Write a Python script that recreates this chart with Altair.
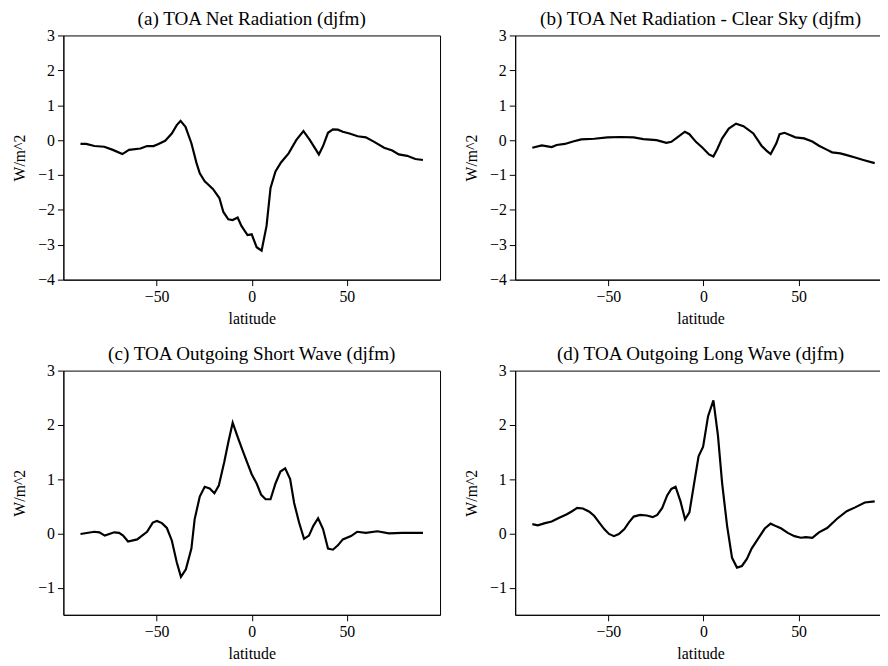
import altair as alt
import pandas as pd

# ---- data ----
lat_a = [-90, -87, -82.7, -77.5, -73, -68, -64.5, -58.5, -55, -51.6, -49, -45.5, -42, -39.4,
         -37.4, -34.8, -31.7, -29, -27.3, -24.7, -20.4, -17, -14.9, -12.3, -10, -7.4, -5.4,
         -2.2, 0, 2.6, 5.2, 7.8, 9.9, 12.5, 15.4, 19.4, 23.4, 27.2, 30.6, 35.3, 37.5, 40.1,
         42.7, 45.3, 47.9, 51.4, 55.7, 60, 64.4, 69.6, 73.9, 77.3, 81.7, 86, 90]
val_a = [-0.11, -0.11, -0.17, -0.19, -0.28, -0.40, -0.28, -0.24, -0.17, -0.17, -0.11, -0.02,
         0.19, 0.43, 0.55, 0.38, -0.09, -0.66, -0.95, -1.18, -1.40, -1.66, -2.06, -2.27,
         -2.29, -2.22, -2.46, -2.72, -2.70, -3.07, -3.17, -2.46, -1.37, -0.90, -0.64, -0.38,
         0.0, 0.26, 0.0, -0.41, -0.17, 0.21, 0.31, 0.30, 0.24, 0.19, 0.11, 0.08, -0.05,
         -0.22, -0.30, -0.41, -0.45, -0.54, -0.57]

lat_b = [-90, -85, -79.8, -77.2, -72.9, -68.6, -64.3, -57.4, -50.5, -43.6, -36.7, -31.6,
         -24.7, -19.5, -16.9, -13.4, -9.8, -7.4, -4, -0.5, 2.9, 5.2, 7.2, 9.8, 13.3, 17.1,
         21, 26.2, 30.5, 33.1, 35.3, 38.3, 40, 42.6, 45.7, 48.3, 52.9, 57.2, 60.7, 65, 67.6,
         71.9, 75.3, 79.7, 84, 90]
val_b = [-0.22, -0.15, -0.20, -0.14, -0.11, -0.04, 0.02, 0.04, 0.08, 0.09, 0.08, 0.03,
         0.0, -0.08, -0.05, 0.09, 0.24, 0.17, -0.05, -0.22, -0.41, -0.47, -0.26, 0.05, 0.33,
         0.47, 0.40, 0.19, -0.16, -0.30, -0.40, -0.09, 0.17, 0.21, 0.14, 0.08, 0.05, -0.04,
         -0.16, -0.28, -0.35, -0.38, -0.43, -0.50, -0.57, -0.66]

lat_c = [-90, -82.7, -80.1, -77.2, -72.3, -69.7, -67.6, -65, -60.2, -55, -52, -49.8, -47.2,
         -44.6, -42, -39.4, -37.2, -34.6, -31.7, -30, -27.3, -24.7, -22.1, -19.6, -17.3,
         -14.4, -12.3, -10, -7.4, -4.8, -2.2, 0, 2.6, 5, 7.3, 9.9, 12.5, 15.1, 17.6, 20.2,
         22.3, 24.9, 27.5, 30.1, 32.4, 34.9, 37.5, 40.1, 42.7, 45.3, 47.9, 52.2, 55.4, 60,
         66.1, 72.1, 79.1, 90]
val_c = [-0.01, 0.03, 0.02, -0.04, 0.02, 0.01, -0.04, -0.15, -0.11, 0.03, 0.20, 0.23, 0.19,
         0.10, -0.13, -0.53, -0.80, -0.66, -0.28, 0.26, 0.68, 0.86, 0.83, 0.74, 0.88, 1.32,
         1.68, 2.04, 1.78, 1.53, 1.29, 1.09, 0.92, 0.71, 0.63, 0.63, 0.92, 1.14, 1.20, 1.00,
         0.56, 0.20, -0.10, -0.04, 0.14, 0.28, 0.08, -0.28, -0.30, -0.22, -0.11, -0.05, 0.03,
         0.01, 0.04, 0.0, 0.01, 0.01]

lat_d = [-90, -87.1, -83.3, -79.8, -76.4, -72.1, -69.5, -66.4, -63.4, -60, -57.4, -54.8,
         -52.2, -49.7, -47.1, -44.5, -41.6, -39.3, -36.7, -33.3, -29.8, -26.7, -24.3, -21.7,
         -19.1, -16.9, -14.7, -12.1, -9.7, -7.4, -4.8, -2.6, -0.2, 2.4, 5.2, 7.6, 9.8, 12.4,
         15, 17.6, 20.2, 22.8, 25.3, 28.8, 32.2, 35.3, 38.3, 40.9, 44.3, 47.8, 51.2, 53.8,
         57.2, 60.7, 65, 70.2, 75.3, 79.7, 84.8, 90]
val_d = [0.17, 0.15, 0.19, 0.22, 0.28, 0.35, 0.40, 0.47, 0.46, 0.40, 0.32, 0.20, 0.08, -0.01,
         -0.05, -0.01, 0.08, 0.20, 0.31, 0.34, 0.33, 0.30, 0.34, 0.47, 0.70, 0.82, 0.86, 0.59,
         0.26, 0.39, 0.95, 1.42, 1.60, 2.16, 2.45, 1.80, 0.92, 0.14, -0.45, -0.63, -0.60,
         -0.47, -0.28, -0.09, 0.09, 0.18, 0.13, 0.09, 0.01, -0.05, -0.08, -0.07, -0.08, 0.02,
         0.10, 0.27, 0.41, 0.48, 0.57, 0.59]

titles = ["(a) TOA Net Radiation (djfm)",
          "(b) TOA Net Radiation - Clear Sky (djfm)",
          "(c) TOA Outgoing Short Wave (djfm)",
          "(d) TOA Outgoing Long Wave (djfm)"]
y_domains = [[-4, 3], [-4, 3], [-1.5, 3], [-1.5, 3]]
y_ticks = [[-4, -3, -2, -1, 0, 1, 2, 3], [-4, -3, -2, -1, 0, 1, 2, 3],
           [-1, 0, 1, 2, 3], [-1, 0, 1, 2, 3]]
x_ticks = [-50, 0, 50]
x_dom_left = [-99, 99]
x_dom_right = [-99, 95.9]   # right column is cut off at the page edge

FONT = "Liberation Serif"
H = 247


def panel(lats, vals, title, ydom, yt, xdom, w):
    df = pd.DataFrame({"lat": lats, "val": vals})
    return alt.Chart(df, title=alt.Title(title, fontSize=19.3, font=FONT, fontWeight="normal",
                                         color="black", offset=-2)).mark_line(
        color="black", strokeWidth=2.2, clip=True
    ).encode(
        x=alt.X("lat:Q", title="latitude",
                scale=alt.Scale(domain=xdom, nice=False, zero=False),
                axis=alt.Axis(values=x_ticks, grid=False)),
        y=alt.Y("val:Q", title="W/m^2",
                scale=alt.Scale(domain=ydom, nice=False, zero=False),
                axis=alt.Axis(values=yt, grid=False)),
        order="lat:Q",
    ).properties(width=w, height=H)


pa = panel(lat_a, val_a, titles[0], y_domains[0], y_ticks[0], x_dom_left, 381)
pb = panel(lat_b, val_b, titles[1], y_domains[1], y_ticks[1], x_dom_right, 375)
pc = panel(lat_c, val_c, titles[2], y_domains[2], y_ticks[2], x_dom_left, 381)
pd_ = panel(lat_d, val_d, titles[3], y_domains[3], y_ticks[3], x_dom_right, 375)

chart = alt.vconcat(
    alt.hconcat(pa, pb, spacing=22),
    alt.hconcat(pc, pd_, spacing=22),
    spacing=18,
).properties(
    padding={"left": 3, "top": -2, "right": -7, "bottom": 0}
).configure_view(
    stroke="black", strokeWidth=1
).configure_axis(
    labelFont=FONT, titleFont=FONT, labelFontSize=16, titleFontSize=16,
    labelColor="black", titleColor="black", titleFontWeight="normal",
    domainColor="black", tickColor="black", tickSize=6, tickWidth=1, domainWidth=1,
    labelPadding=3, titlePadding=6
).configure_axisY(titlePadding=10)

chart.save("out.html", embed_options={"renderer": "svg", "actions": False})
